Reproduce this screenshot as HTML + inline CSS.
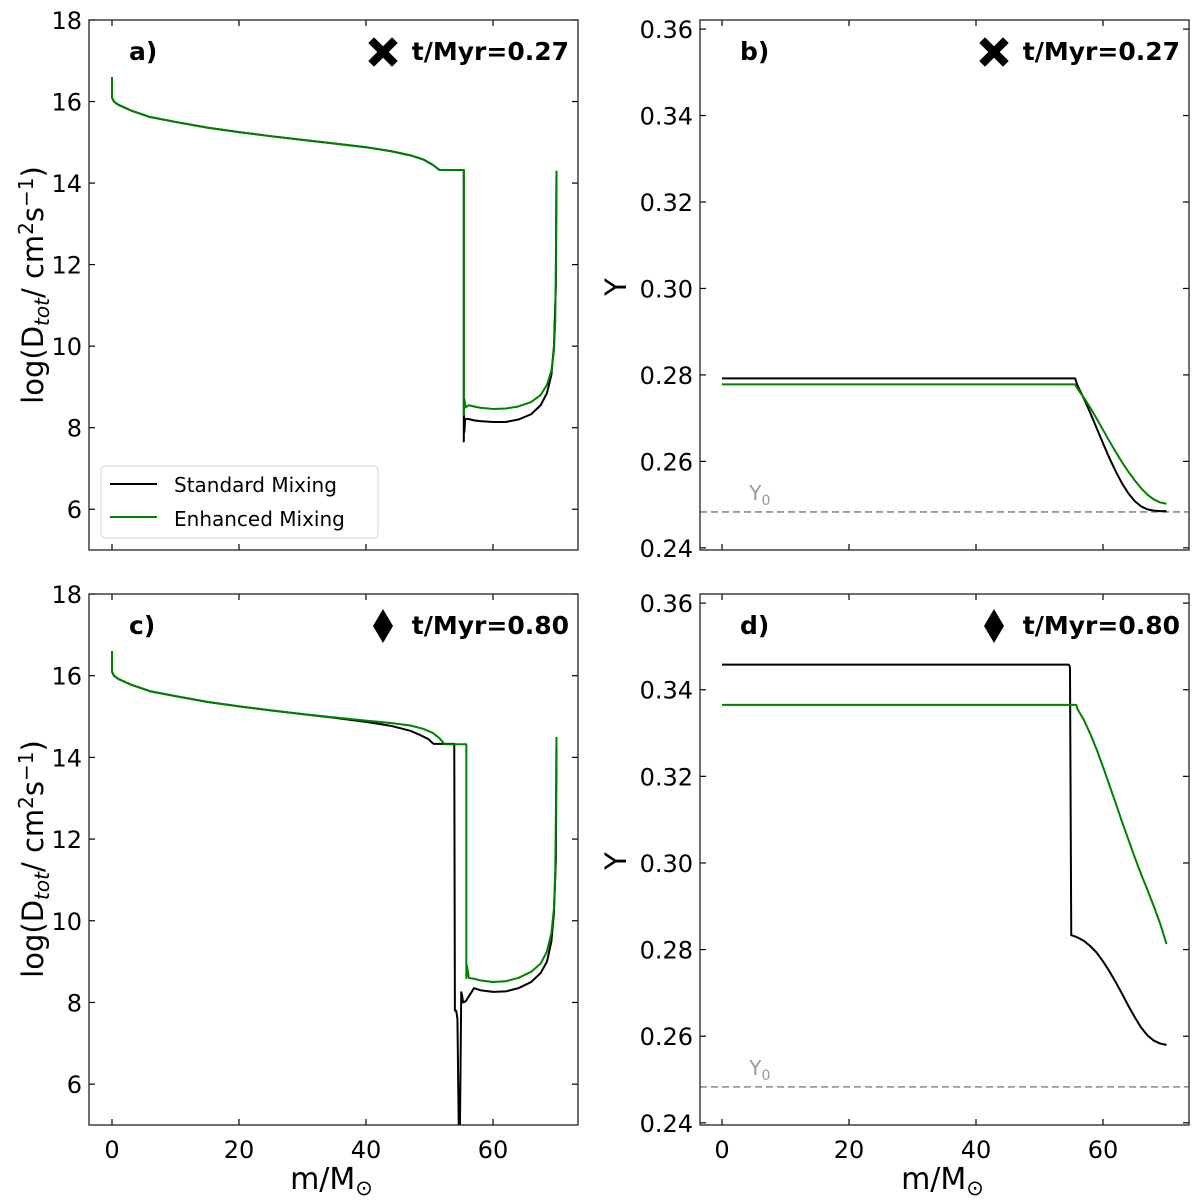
<!DOCTYPE html>
<html><head><meta charset="utf-8"><style>
html,body{margin:0;padding:0;background:#fff;}
svg{display:block;font-family:"DejaVu Sans","Liberation Sans",sans-serif;}
</style></head><body>
<svg id="fig" width="1200" height="1202" viewBox="0 0 1200 1202" xmlns="http://www.w3.org/2000/svg"></svg>
<script>
// ---- data ----
const xTicks = [0, 20, 40, 60];
const dTicks = [6, 8, 10, 12, 14, 16, 18];
const yTicks = [0.24, 0.26, 0.28, 0.30, 0.32, 0.34, 0.36];
const Y0 = 0.2483;
// panel a
const aStdX = [0,0,0.3,1,3,6,10,15,20,25,30,35,40,44,47,49,50.5,51.5,51.6,55.4,55.4,55.45,55.5,55.6,56,57,58,60,62,64,66,67.5,68.5,69.2,69.6,69.9,70];
const aStdY = [16.6,16.1,16.0,15.92,15.78,15.62,15.5,15.36,15.25,15.15,15.06,14.97,14.88,14.78,14.68,14.58,14.45,14.33,14.32,14.32,7.66,8.3,7.9,8.2,8.22,8.18,8.16,8.14,8.14,8.2,8.33,8.55,8.85,9.3,10.0,11.5,14.3];
const aEnhX = [0,0,0.3,1,3,6,10,15,20,25,30,35,40,44,47,49,50.5,51.5,51.6,55.4,55.4,55.5,55.7,56.2,57,58,60,62,64,66,67.5,68.5,69.2,69.6,69.8,69.9,70];
const aEnhY = [16.6,16.1,16.0,15.92,15.78,15.62,15.5,15.36,15.25,15.15,15.06,14.97,14.88,14.78,14.68,14.58,14.45,14.33,14.32,14.32,8.3,8.7,8.5,8.55,8.52,8.49,8.46,8.47,8.52,8.63,8.8,9.05,9.4,9.9,10.6,12,14.3];
// panel b
const bStdX = [0,55.6,56,57,58,59,60,61,62,63,64,65,66,67,68,69,70];
const bStdY = [0.2792,0.2792,0.2775,0.2745,0.2712,0.2677,0.2642,0.2608,0.2577,0.2549,0.2526,0.2508,0.2496,0.2489,0.2486,0.2485,0.2485];
const bEnhX = [0,55.6,56,57,58,59,60,61,62,63,64,65,66,67,68,69,70];
const bEnhY = [0.2778,0.2778,0.2768,0.2747,0.2724,0.2699,0.2673,0.2647,0.2622,0.2598,0.2576,0.2556,0.2538,0.2523,0.2512,0.2505,0.2502];
// panel c
const cStdX = [0,0,0.3,1,3,6,10,15,20,25,30,35,40,44,47,48.5,49.8,50.5,50.7,53.9,54.0,54.2,54.4,54.6,54.8,55.0,55.1,55.3,55.7,56.2,57,58,60,62,64,66,67.5,68.5,69.2,69.6,69.9,70];
const cStdY = [16.6,16.1,16.0,15.92,15.78,15.62,15.5,15.36,15.25,15.15,15.06,14.97,14.87,14.77,14.65,14.55,14.45,14.35,14.33,14.33,7.8,7.8,7.6,5.0,5.0,8.25,8.2,8.0,8.03,8.15,8.35,8.3,8.26,8.27,8.35,8.5,8.72,9.0,9.5,10.2,11.5,14.3];
const cEnhX = [0,0,0.3,1,3,6,10,15,20,25,30,35,40,44,47,49,50.5,51.5,52.3,52.5,55.8,55.8,55.9,56.2,57,58,60,62,64,66,67.5,68.5,69.2,69.6,69.8,69.9,70];
const cEnhY = [16.6,16.1,16.0,15.92,15.78,15.62,15.5,15.36,15.25,15.15,15.06,14.98,14.9,14.84,14.78,14.7,14.6,14.48,14.34,14.32,14.32,8.6,8.9,8.6,8.58,8.54,8.5,8.52,8.6,8.75,8.95,9.25,9.7,10.3,11.2,12.5,14.5];
// panel d
const dStdX = [0,54.6,54.8,55.0,55.1,56,57,58,59,60,61,62,63,64,65,66,67,68,69,70];
const dStdY = [0.3458,0.3458,0.3452,0.2833,0.2833,0.2828,0.2820,0.2808,0.2793,0.2773,0.2750,0.2725,0.2698,0.2670,0.2644,0.2620,0.2602,0.2590,0.2583,0.2580];
const dEnhX = [0,55.8,56,57,58,59,60,61,62,63,64,65,66,67,68,69,70];
const dEnhY = [0.3365,0.3365,0.3355,0.3330,0.3298,0.3262,0.3222,0.3180,0.3138,0.3095,0.3054,0.3013,0.2974,0.2938,0.2900,0.2860,0.2813];

const NS = "http://www.w3.org/2000/svg";
const svg = document.getElementById('fig');
function el(tag, attrs, parent, txt){
  const e = document.createElementNS(NS, tag);
  for (const k in attrs) e.setAttribute(k, attrs[k]);
  if (txt !== undefined) e.textContent = txt;
  (parent || svg).appendChild(e);
  return e;
}
function makeX(L){ return v => L.x0 + v * 6.35; }
function makeY(top, bottom, ymin, ymax){ return v => bottom - (v - ymin) / (ymax - ymin) * (bottom - top); }

function panel(cfg){
  const g = el('g', {});
  
  
  const X = makeX(cfg), Y = makeY(cfg.top, cfg.bottom, cfg.ymin, cfg.ymax);
  for (const t of xTicks){
    const tk = el('line', {x1:X(t), x2:X(t), y1:cfg.bottom, y2:cfg.bottom-6, stroke:'#000','stroke-width':1.2}, g);
    
    
    el('line', {x1:X(t), x2:X(t), y1:cfg.top, y2:cfg.top+6, stroke:'#000','stroke-width':1.2}, g);
    if (cfg.xlabels){
      const lb = el('text', {x:X(t), y:cfg.bottom+33, 'font-size':24, 'text-anchor':'middle'}, g, String(t));
      
      
    }
  }
  for (const t of cfg.yticks){
    el('line', {x1:cfg.left, x2:cfg.left+6, y1:Y(t), y2:Y(t), stroke:'#000','stroke-width':1.2}, g);
    el('line', {x1:cfg.right, x2:cfg.right-6, y1:Y(t), y2:Y(t), stroke:'#000','stroke-width':1.2}, g);
    const lb = el('text', {x:cfg.left-7, y:Y(t)+9, 'font-size':24, 'text-anchor':'end'}, g, cfg.fmt(t));
    
    
  }
  const cid = 'clip-' + cfg.name;
  const cp = el('clipPath', {id:cid}, g);
  el('rect', {x:cfg.left, y:cfg.top, width:cfg.right-cfg.left, height:cfg.bottom-cfg.top}, cp);
  const plot = el('g', {'clip-path':'url(#'+cid+')'}, g);
  if (cfg.y0){
    const d = el('line', {x1:cfg.left, x2:cfg.right, y1:Y(Y0), y2:Y(Y0), stroke:'#999','stroke-width':1.8,'stroke-dasharray':'7,4'}, plot);
    
    
    const t = el('text', {x:X(4.3), y:Y(Y0)-12, 'font-size':20, fill:'#999'}, g);
    
    
    t.appendChild(document.createTextNode('Y'));
    el('tspan', {'font-size':14, dy:5}, t, '0');
  }
  for (const s of cfg.series){
    let d = '';
    for (let i = 0; i < s.x.length; i++) d += (i ? 'L' : 'M') + X(s.x[i]).toFixed(2) + ',' + Y(s.y[i]).toFixed(2);
    const p = el('path', {d:d, fill:'none', stroke:s.color, 'stroke-width':2, 'stroke-linejoin':'round'}, plot);
    
    
  }
  const fr = el('rect', {x:cfg.left, y:cfg.top, width:cfg.right-cfg.left, height:cfg.bottom-cfg.top, fill:'none', stroke:'#222','stroke-width':1.3}, g);
  
  
  const pl = el('text', {x:cfg.left+40, y:cfg.top+40, 'font-size':25, 'font-weight':'bold'}, g, cfg.letter);
  
  
  const tl = el('text', {x:cfg.right-9, y:cfg.top+40, 'font-size':25, 'font-weight':'bold', 'text-anchor':'end'}, g, cfg.time);
  
  
  const mx = cfg.right - 195, my = cfg.top + 32;
  let m;
  if (cfg.marker === 'x'){
    const a = 14, b = 5;
    m = el('path', {d:`M${mx-a},${my-a+b}L${mx-a+b},${my-a}L${mx},${my-b}L${mx+a-b},${my-a}L${mx+a},${my-a+b}L${mx+b},${my}L${mx+a},${my+a-b}L${mx+a-b},${my+a}L${mx},${my+b}L${mx-a+b},${my+a}L${mx-a},${my+a-b}L${mx-b},${my}Z`, fill:'#000', 'stroke-linejoin':'round', stroke:'#000', 'stroke-width':1}, g);
  } else {
    m = el('path', {d:`M${mx},${my-17}L${mx+10},${my}L${mx},${my+17}L${mx-10},${my}Z`, fill:'#000'}, g);
  }
  
  
  if (cfg.xtitle){
    const xt = el('text', {x:(cfg.left+cfg.right)/2 - 2, y:cfg.bottom+64, 'font-size':30, 'text-anchor':'middle'}, g, 'm/M');
    
    
    el('tspan', {'font-size':21, dy:6}, xt, '⊙');
  }
  return {X, Y, g};
}
const fmtD = t => String(t);
const fmtY = t => t.toFixed(2);
panel({name:'panel-a', left:89, right:578, x0:112, top:20, bottom:550, ymin:5, ymax:18, yticks:dTicks, fmt:fmtD, letter:'a)', time:'t/Myr=0.27', marker:'x',
  series:[{name:'standard-mixing-line', color:'#000', x:aStdX, y:aStdY},{name:'enhanced-mixing-line', color:'#008000', x:aEnhX, y:aEnhY}]});
panel({name:'panel-b', left:700, right:1189, x0:722, top:20, bottom:550, ymin:0.2395, ymax:0.3621, yticks:yTicks, fmt:fmtY, letter:'b)', time:'t/Myr=0.27', marker:'x', y0:true,
  series:[{name:'standard-mixing-line', color:'#000', x:bStdX, y:bStdY},{name:'enhanced-mixing-line', color:'#008000', x:bEnhX, y:bEnhY}]});
panel({name:'panel-c', left:89, right:578, x0:112, top:594, bottom:1125, ymin:5, ymax:18, yticks:dTicks, fmt:fmtD, letter:'c)', time:'t/Myr=0.80', marker:'d', xlabels:true, xtitle:true,
  series:[{name:'standard-mixing-line', color:'#000', x:cStdX, y:cStdY},{name:'enhanced-mixing-line', color:'#008000', x:cEnhX, y:cEnhY}]});
panel({name:'panel-d', left:700, right:1189, x0:722, top:594, bottom:1125, ymin:0.2395, ymax:0.3621, yticks:yTicks, fmt:fmtY, letter:'d)', time:'t/Myr=0.80', marker:'d', y0:true, xlabels:true, xtitle:true,
  series:[{name:'standard-mixing-line', color:'#000', x:dStdX, y:dStdY},{name:'enhanced-mixing-line', color:'#008000', x:dEnhX, y:dEnhY}]});

function ytitleD(cy, name){
  const t = el('text', {transform:`translate(43,${cy}) rotate(-90)`, 'font-size':29, 'text-anchor':'middle'});
  
  
  t.appendChild(document.createTextNode('log(D'));
  el('tspan', {'font-size':20, 'font-style':'italic', dy:6}, t, 'tot');
  el('tspan', {dy:-6}, t, '/ cm');
  el('tspan', {'font-size':20, dy:-10}, t, '2');
  el('tspan', {dy:10}, t, 's');
  el('tspan', {'font-size':20, dy:-10}, t, '−1');
  el('tspan', {dy:10}, t, ')');
}
ytitleD(285, 'y-axis-title-a');
ytitleD(859, 'y-axis-title-c');
function ytitleY(cy, name){
  const t = el('text', {transform:`translate(626,${cy}) rotate(-90)`, 'font-size':29, 'text-anchor':'middle'}, svg, 'Y');
  
  
}
ytitleY(287, 'y-axis-title-b');
ytitleY(861, 'y-axis-title-d');

const lg = el('g', {});


el('rect', {x:101, y:466, width:277, height:72, rx:4, fill:'#fff', stroke:'#ddd', 'stroke-width':1.2}, lg);
const e1 = el('line', {x1:110, x2:157, y1:484, y2:484, stroke:'#000', 'stroke-width':2}, lg);


el('text', {x:174, y:492, 'font-size':20}, lg, 'Standard Mixing');
const e2 = el('line', {x1:110, x2:157, y1:517, y2:517, stroke:'#008000', 'stroke-width':2}, lg);


el('text', {x:174, y:526, 'font-size':20}, lg, 'Enhanced Mixing');
</script>
</body></html>
